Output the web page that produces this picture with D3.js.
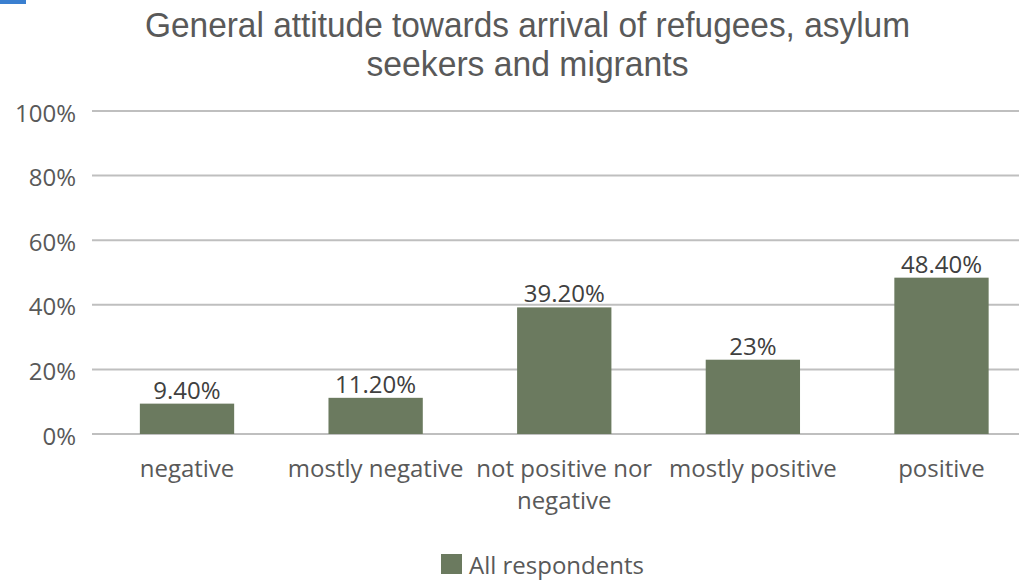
<!DOCTYPE html>
<html><head><meta charset="utf-8">
<script src="https://cdn.jsdelivr.net/npm/d3@7"></script>
<style>body{margin:0;background:#fff;}svg{display:block;}</style>
</head><body>
<svg id="c" width="1019" height="580"></svg>
<script>
const categories = ["negative", "mostly negative", "not positive nor negative", "mostly positive", "positive"];
const categoryLines = [["negative"], ["mostly negative"], ["not positive nor", "negative"], ["mostly positive"], ["positive"]];
const values = [9.4, 11.2, 39.2, 23, 48.4];
const valueLabels = ["9.40%", "11.20%", "39.20%", "23%", "48.40%"];
const yTicks = [0, 20, 40, 60, 80, 100];
const seriesName = "All respondents";
const titleLines = ["General attitude towards arrival of refugees, asylum", "seekers and migrants"];

const svg = d3.select("#c");
const barColor = "#6b7a5f";
const textColor = "#595959";
const tickFont = "'Open Sans', 'Noto Sans', sans-serif";
const fs = 24;

svg.append("rect").attr("x", 0).attr("y", 0).attr("width", 26).attr("height", 4).attr("fill", "#3a7fd0");

const x = d3.scaleBand().domain(categories).range([92.7, 1035.8]).paddingInner(0.5).paddingOuter(0.25);
const y = d3.scaleLinear().domain([0, 100]).range([434, 111]);

const titleWidths = [765, 322];
svg.append("g").selectAll("text").data(titleLines).join("text")
  .attr("x", 527.5).attr("y", (d, i) => 37 + i * 39)
  .attr("text-anchor", "middle").attr("font-family", "'Liberation Sans', Arial, sans-serif")
  .attr("font-size", 34.5).attr("fill", textColor)
  .attr("textLength", (d, i) => titleWidths[i]).attr("lengthAdjust", "spacingAndGlyphs")
  .text(d => d);

// gridlines
svg.append("g").selectAll("line").data(yTicks).join("line")
  .attr("x1", 92).attr("x2", 1019).attr("y1", d => y(d)).attr("y2", d => y(d))
  .attr("stroke", "#bfbfbf").attr("stroke-width", 2);

// y labels
svg.append("g").selectAll("text").data(yTicks).join("text")
  .attr("x", 76).attr("y", d => y(d) + 10.5).attr("text-anchor", "end")
  .attr("font-family", tickFont).attr("font-size", fs).attr("fill", textColor)
  .text(d => d + "%");

// bars
svg.append("g").selectAll("rect").data(values).join("rect")
  .attr("x", (d, i) => x(categories[i])).attr("width", x.bandwidth())
  .attr("y", d => y(d)).attr("height", d => y(0) - y(d))
  .attr("fill", barColor);

// data labels
svg.append("g").selectAll("text").data(values).join("text")
  .attr("x", (d, i) => x(categories[i]) + x.bandwidth() / 2).attr("y", d => y(d) - 5)
  .attr("text-anchor", "middle").attr("font-family", tickFont).attr("font-size", fs).attr("fill", "#404040")
  .text((d, i) => valueLabels[i]);

// category labels
const cl = svg.append("g").selectAll("text").data(categories).join("text")
  .attr("text-anchor", "middle").attr("font-family", tickFont).attr("font-size", fs).attr("fill", textColor);
cl.each(function(d, i) {
  const t = d3.select(this);
  categoryLines[i].forEach((ln, j) => {
    t.append("tspan").attr("x", x(d) + x.bandwidth() / 2).attr("y", 477 + j * 31.5).text(ln);
  });
});

// legend
svg.append("rect").attr("x", 441).attr("y", 554).attr("width", 21).attr("height", 20).attr("fill", barColor);
svg.append("text").attr("x", 469).attr("y", 574).attr("font-family", tickFont).attr("font-size", fs)
  .attr("fill", textColor).text(seriesName);
</script>
</body></html>
